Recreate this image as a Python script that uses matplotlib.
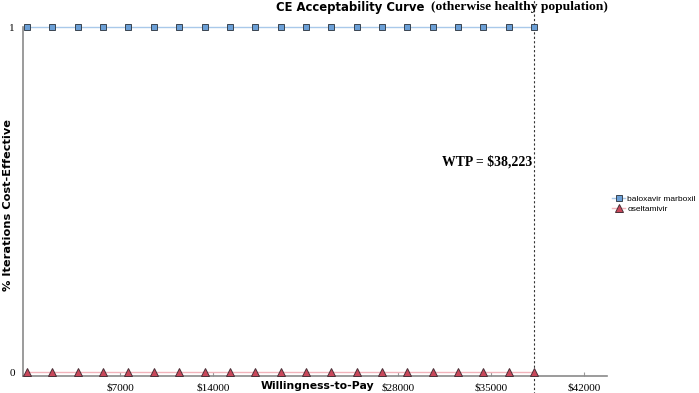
import matplotlib.pyplot as plt
import numpy as np

# willingness-to-pay steps (0 .. WTP in 20 steps)
wtp = 38223
n_steps = 20
x_vals = [wtp * i / n_steps for i in range(n_steps + 1)]
baloxavir = [1] * (n_steps + 1)
oseltamivir = [0] * (n_steps + 1)
xticks = [7000, 14000, 21000, 28000, 35000, 42000]
xtick_labels = ['$7000', '$14000', '', '$28000', '$35000', '$42000']

fig = plt.figure(figsize=(6.99, 3.93), dpi=100)
ax = fig.add_axes([0.033, 0.043, 0.835, 0.888])

ax.plot(x_vals, baloxavir, color='#a9c9ea', linewidth=1, marker='s', markersize=4.8,
        markerfacecolor='#6b9fd6', markeredgecolor='#3a4450', markeredgewidth=0.7,
        label='baloxavir marboxil', clip_on=False, zorder=3)
ax.plot(x_vals, oseltamivir, color='#f2b3bb', linewidth=1, marker='^', markersize=5.2,
        markerfacecolor='#c9475a', markeredgecolor='#4a3038', markeredgewidth=0.7,
        label='oseltamivir', clip_on=False, zorder=3)

# WTP line
ax.axvline(wtp, ymin=-0.05, ymax=1.08, color='#333333', linestyle=(0, (2, 2)),
           linewidth=0.8, clip_on=False)
ax.text(wtp - 150, 0.609, 'WTP = $38,223', family='Liberation Serif', fontweight='bold',
        fontsize=9.9, ha='right', va='center')

ax.set_xlim(-300, 43700)
ax.set_ylim(-0.0116, 1.0)
ax.set_xticks(xticks)
ax.set_xticklabels(xtick_labels, family='Liberation Serif', fontsize=8)
ax.set_yticks([0, 1])
ax.set_yticklabels(['0', '1'], family='Liberation Serif', fontsize=8)
ax.tick_params(axis='x', direction='in', length=3, color='#999999', pad=5)
ax.tick_params(axis='y', length=0, pad=6)

for s in ['top', 'right']:
    ax.spines[s].set_visible(False)
for s in ['left', 'bottom']:
    ax.spines[s].set_color('#8a8a8a')
    ax.spines[s].set_linewidth(1.2)

fig.text(0.012, 0.478, '% Iterations Cost-Effective', rotation=90, ha='center', va='center',
         family='DejaVu Sans', fontweight='bold', fontsize=8.2)
fig.text(0.4535, 0.018, 'Willingness-to-Pay', ha='center', va='center',
         family='DejaVu Sans', fontweight='bold', fontsize=7.8)

# title in two fonts, second part placed after the first
t1 = fig.text(0.395, 0.982, 'CE Acceptability Curve', ha='left', va='center',
              family='DejaVu Sans', fontweight='bold', fontsize=8.4)
fig.canvas.draw()
bb = t1.get_window_extent()
fig.text((bb.x1 + 7) / fig.bbox.width, 0.982, '(otherwise healthy population)', ha='left',
         va='center', family='Liberation Serif', fontweight='bold', fontsize=9.7)

ax.legend(loc='upper left', bbox_to_anchor=(612 / 699, 1 - 195 / 393),
          bbox_transform=fig.transFigure, frameon=False, borderpad=0,
          borderaxespad=0, handlelength=1.6, handletextpad=0.25, labelspacing=0.3,
          prop={'family': 'Liberation Sans', 'size': 6.0})

fig.savefig('out.png', dpi=100)
